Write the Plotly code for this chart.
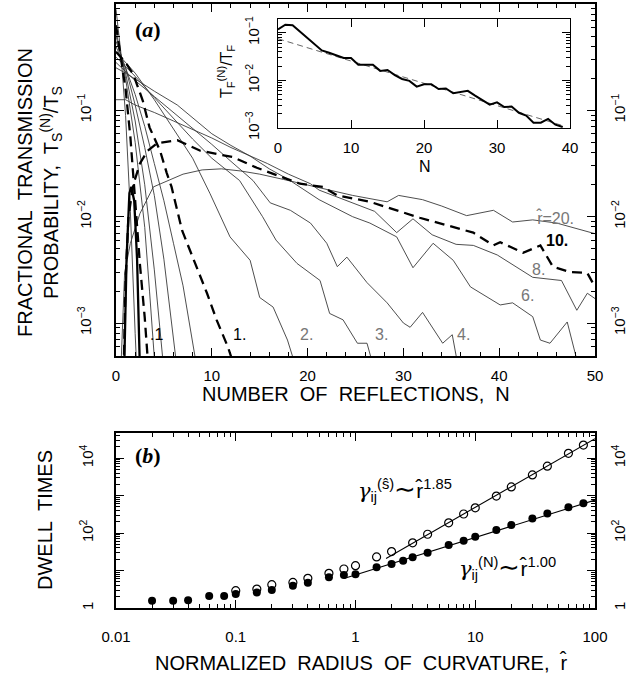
import plotly.graph_objects as go

W, H = 637, 678

# ---------------- Panel (a): log10 of T_S^(N)/T_S versus N, one series per r-hat ----------------
r005_N = [0, 0.5, 1.0, 1.5, 2.0, 2.2]
r005_lg = [-0.05, -0.45, -1.05, -1.95, -3.1, -3.5]
r01_N = [0, 1.0, 1.5, 2.0, 2.5, 3.0, 3.4]
r01_lg = [-0.2, -0.8, -1.25, -1.85, -2.45, -2.95, -3.45]
rthick_N = [0.85, 1.1, 1.4, 1.6, 1.9, 2.2, 2.5]
rthick_lg = [-3.45, -2.4, -1.78, -1.72, -1.85, -2.4, -3.45]
r02_N = [0, 1, 2, 3, 3.5, 4.1]
r02_lg = [-0.25, -0.7, -1.3, -2.1, -2.7, -3.45]
r03_N = [0, 1, 2, 3, 4, 5.0]
r03_lg = [-0.3, -0.65, -1.1, -1.7, -2.5, -3.45]
r05_N = [0, 1, 2, 3, 4, 5, 6.4]
r05_lg = [-0.35, -0.6, -0.95, -1.35, -1.8, -2.4, -3.45]
r07_N = [0, 1, 2, 3, 4, 5, 6, 7, 8.5]
r07_lg = [-0.4, -0.6, -0.85, -1.15, -1.5, -1.85, -2.25, -2.65, -3.45]
r1_N = [0, 1, 1.8, 2.8, 3.5, 4.6, 5.3, 5.8, 6.9, 8, 9.5, 10.5, 11.7, 12.5]
r1_lg = [-0.45, -0.55, -0.66, -0.91, -1.16, -1.38, -1.59, -1.72, -2.13, -2.38, -2.72, -2.97, -3.23, -3.45]
r2_N = [0, 2, 4, 6, 8, 9.8, 11.9, 14.0, 15.0, 16.4, 17.9, 18.9]
r2_lg = [-0.45, -0.65, -0.9, -1.17, -1.45, -1.78, -2.19, -2.41, -2.76, -2.85, -3.16, -3.45]
r3_N = [0, 2, 4, 6, 8, 10, 12.9, 15.3, 16.7, 18.9, 21.3, 22.3, 23.7, 25.2, 26.2, 27.0]
r3_lg = [-0.5, -0.68, -0.88, -1.08, -1.27, -1.45, -1.66, -2.0, -2.22, -2.44, -2.60, -2.91, -2.97, -3.19, -3.19, -3.45]
r4_N = [0, 2, 4, 6, 8, 10, 12, 14.3, 16.1, 18.2, 20.3, 22.0, 23.1, 24.1, 26.2, 28.3, 30.0, 30.7, 32.0, 34.1, 35.1, 35.8]
r4_lg = [-0.55, -0.72, -0.87, -1.02, -1.17, -1.32, -1.48, -1.66, -1.87, -1.94, -2.06, -2.25, -2.47, -2.38, -2.62, -2.81, -3.0, -3.04, -2.90, -3.19, -3.11, -3.45]
r6_N = [0, 1, 2.8, 4, 6.4, 8, 10, 12, 14, 16, 18, 21.2, 24.7, 26.5, 29.3, 31.0, 33.1, 35.2, 37.0, 40.1, 41.4, 43.5, 44.3, 45.3, 47.1, 48.4]
r6_lg = [-0.6, -0.65, -0.75, -0.82, -0.95, -1.07, -1.22, -1.33, -1.43, -1.55, -1.65, -1.84, -2.0, -2.06, -2.19, -2.48, -2.25, -2.41, -2.66, -2.83, -2.81, -2.94, -3.16, -3.19, -2.99, -3.45]
r8_N = [0, 1, 2, 4, 6, 8, 10, 12, 14, 15.8, 18, 20.3, 21.2, 24, 27, 29.3, 31, 33, 35.5, 37.3, 39.8, 43.5, 46.5, 48.1, 49.2, 50]
r8_lg = [-0.9, -0.9, -0.95, -1.02, -1.1, -1.18, -1.26, -1.35, -1.43, -1.5, -1.6, -1.69, -1.75, -1.85, -1.95, -2.15, -2.02, -2.17, -2.26, -2.27, -2.36, -2.57, -2.60, -2.88, -2.72, -2.77]
r10_N = [0.8, 1.0, 1.3, 1.8, 2.5, 3.3, 4.3, 6.4, 8.8, 12.2, 14.7, 17.4, 19.2, 21.6, 23.1, 26.5, 31.7, 37.3, 39.4, 40.1, 42.5, 44.3, 45.6, 47.4, 49.2, 50]
r10_lg = [-3.45, -2.6, -2.0, -1.7, -1.50, -1.38, -1.31, -1.28, -1.38, -1.44, -1.54, -1.63, -1.69, -1.72, -1.80, -1.86, -2.01, -2.15, -2.27, -2.24, -2.34, -2.27, -2.47, -2.52, -2.53, -2.66]
r20_N = [0.5, 0.9, 1.5, 2.5, 3.9, 5.4, 7, 9, 11, 13, 15, 17.5, 19, 21.3, 24.7, 28.3, 29.5, 32, 34, 36.6, 39.4, 41.4, 43.5, 46, 48.7, 50]
r20_lg = [-3.45, -2.53, -2.25, -1.97, -1.72, -1.66, -1.60, -1.56, -1.55, -1.57, -1.60, -1.65, -1.68, -1.73, -1.80, -1.86, -1.80, -1.84, -1.90, -1.99, -1.94, -2.05, -2.03, -2.06, -2.13, -2.16]

# ---------------- Inset: log10 of T_F^(N)/T_F ----------------
inset_N = list(range(40))
inset_lg = [-0.93, -0.83, -0.84, -0.97, -1.09, -1.22, -1.37, -1.42, -1.47, -1.53,
            -1.53, -1.67, -1.67, -1.67, -1.80, -1.78, -1.89, -1.97, -2.01, -2.13,
            -2.08, -2.08, -2.18, -2.17, -2.27, -2.24, -2.22, -2.32, -2.42, -2.51,
            -2.46, -2.56, -2.55, -2.68, -2.74, -2.89, -2.89, -2.81, -2.93, -2.98]
inset_fit_N = [0, 39]
inset_fit_lg = [-1.125, -2.95]

# ---------------- Panel (b): dwell times versus r-hat ----------------
rN = [0.02, 0.03, 0.04, 0.06, 0.08, 0.1, 0.15, 0.2, 0.3, 0.4, 0.6, 0.8, 1.0, 1.5, 2.0, 2.5, 3.0,
      4.0, 6.0, 8.0, 10, 15, 20, 30, 40, 60, 80]
gammaN = [1.55, 1.55, 1.6, 2.1, 2.1, 2.35, 2.6, 3.0, 3.9, 4.7, 6.6, 7.6, 8.0, 12.2, 14.9, 18.3, 22.5,
          30, 48, 62, 80, 120, 163, 245, 335, 490, 620]
rS = [0.1, 0.15, 0.2, 0.3, 0.4, 0.6, 0.8, 1.0, 1.5, 2.0, 3.0, 4.0, 6.0, 8.0, 10, 15, 20, 30, 40, 60, 80]
gammaS = [2.9, 3.2, 4.2, 4.8, 6.2, 8.4, 11, 13.5, 23, 32, 55, 93, 188, 322, 470, 970, 1700, 3550,
          6100, 13400, 22300]
fitN_r = [0.8, 100]
fitN_g = [6.1, 760]
fitS_r = [1.8, 100]
fitS_g = [21, 33000]

THIN = dict(color="#3a3a3a", width=0.9)
THICK_DASH = dict(color="black", width=2.3, dash="10px,6px")
THICK = dict(color="black", width=2.3)

curves = [
    (r005_N, r005_lg, THIN), (r02_N, r02_lg, THIN), (r03_N, r03_lg, THIN),
    (r05_N, r05_lg, THIN), (r07_N, r07_lg, THIN), (r2_N, r2_lg, THIN), (r3_N, r3_lg, THIN),
    (r4_N, r4_lg, THIN), (r6_N, r6_lg, THIN), (r8_N, r8_lg, THIN), (r20_N, r20_lg, THIN),
    (r01_N, r01_lg, THICK_DASH), (r1_N, r1_lg, THICK_DASH), (r10_N, r10_lg, THICK_DASH),
    (rthick_N, rthick_lg, THICK),
]

fig = go.Figure()
for n, lg, ln in curves:
    fig.add_trace(go.Scatter(x=n, y=[10 ** v for v in lg], mode="lines", line=ln,
                             xaxis="x", yaxis="y", hoverinfo="skip"))
fig.add_trace(go.Scatter(x=[], y=[], xaxis="x", yaxis="y2"))

fig.add_trace(go.Scatter(x=inset_fit_N, y=[10 ** v for v in inset_fit_lg], mode="lines",
                         line=dict(color="#555", width=0.9, dash="6px,4px"), xaxis="x3", yaxis="y3"))
fig.add_trace(go.Scatter(x=inset_N, y=[10 ** v for v in inset_lg], mode="lines",
                         line=dict(color="black", width=2.0), xaxis="x3", yaxis="y3"))

fig.add_trace(go.Scatter(x=fitN_r, y=fitN_g, mode="lines", line=dict(color="black", width=1.1),
                         xaxis="x4", yaxis="y4"))
fig.add_trace(go.Scatter(x=fitS_r, y=fitS_g, mode="lines", line=dict(color="black", width=1.1),
                         xaxis="x4", yaxis="y4"))
fig.add_trace(go.Scatter(x=rS, y=gammaS, mode="markers",
                         marker=dict(symbol="circle-open", size=8, color="black", line=dict(width=1.2)),
                         xaxis="x4", yaxis="y4"))
fig.add_trace(go.Scatter(x=rN, y=gammaN, mode="markers",
                         marker=dict(symbol="circle", size=8, color="black"),
                         xaxis="x4", yaxis="y4"))
fig.add_trace(go.Scatter(x=[], y=[], xaxis="x4", yaxis="y5"))

FONT = "Liberation Sans"
TF = dict(family=FONT, size=15, color="black")

def log_minor(e0, e1):
    return [k * 10.0 ** e for e in range(e0, e1) for k in range(2, 10)]

base = dict(showline=True, linecolor="black", linewidth=1.5, ticks="inside", tickcolor="black",
            ticklen=8, tickwidth=1.2, showgrid=False, zeroline=False, tickfont=TF, automargin=False)

ya_vals = [1, 0.1, 0.01, 0.001]
ya_text = ["1", "10<sup>−1</sup>", "10<sup>−2</sup>", "10<sup>−3</sup>"]
yb_vals = [1, 10, 100, 1000, 10000]
yb_text = ["1", "", "10<sup>2</sup>", "", "10<sup>4</sup>"]

fig.update_layout(
    width=W, height=H, margin=dict(l=0, r=0, t=0, b=0, autoexpand=False),
    plot_bgcolor="white", paper_bgcolor="white", showlegend=False,
    font=dict(family=FONT, color="black"),
    xaxis=dict(base, domain=[116 / W, 595 / W], anchor="y", range=[0, 50], mirror="ticks",
               tickvals=[0, 10, 20, 30, 40, 50], ticklabelstandoff=5,
               minor=dict(ticks="inside", ticklen=4, tickcolor="black", dtick=2)),
    yaxis=dict(base, domain=[1 - 356 / H, 1 - 4 / H], anchor="x", type="log", range=[-3.31, 0],
               mirror="ticks", tickvals=ya_vals, ticktext=ya_text, tickangle=-90, ticklabelstandoff=17,
               minor=dict(ticks="inside", ticklen=4, tickcolor="black", tickmode="array",
                          tickvals=log_minor(-4, 0))),
    yaxis2=dict(base, overlaying="y", side="right", anchor="x", type="log", range=[-3.31, 0],
                showline=False, tickvals=ya_vals, ticktext=ya_text, tickangle=-90, ticklabelstandoff=14),
    xaxis3=dict(base, domain=[278 / W, 570 / W], anchor="y3", range=[0, 40], mirror="ticks",
                tickvals=[0, 10, 20, 30, 40], ticklabelstandoff=6, linewidth=1.3),
    yaxis3=dict(base, domain=[1 - 128 / H, 1 - 19 / H], anchor="x3", type="log", range=[-3, -0.71],
                mirror="ticks", tickvals=[0.1, 0.01, 0.001],
                ticktext=["10<sup>−1</sup>", "10<sup>−2</sup>", "10<sup>−3</sup>"], tickangle=-90,
                ticklabelstandoff=12, linewidth=1.3,
                minor=dict(ticks="inside", ticklen=4, tickcolor="black", tickmode="array",
                           tickvals=log_minor(-4, 0))),
    xaxis4=dict(base, domain=[116 / W, 595 / W], anchor="y4", type="log", range=[-2, 2], mirror="ticks",
                tickvals=[0.01, 0.1, 1, 10, 100], ticktext=["0.01", "0.1", "1", "10", "100"],
                ticklabelstandoff=14,
                minor=dict(ticks="inside", ticklen=4, tickcolor="black", tickmode="array",
                           tickvals=log_minor(-2, 2))),
    yaxis4=dict(base, domain=[1 - 608 / H, 1 - 433 / H], anchor="x4", type="log", range=[0, 4.67],
                mirror="ticks", tickvals=yb_vals, ticktext=yb_text, tickangle=-90, ticklabelstandoff=15,
                minor=dict(ticks="inside", ticklen=4, tickcolor="black", tickmode="array",
                           tickvals=log_minor(0, 5))),
    yaxis5=dict(base, overlaying="y4", side="right", anchor="x4", type="log", range=[0, 4.67],
                showline=False, tickvals=yb_vals, ticktext=yb_text, tickangle=-90, ticklabelstandoff=14),
)

def P(x, y):
    return x / W, 1 - y / H

anns = []
def add_paper(x, y, text, size=20, angle=0, family=FONT, color="black"):
    px, py = P(x, y)
    anns.append(dict(x=px, y=py, xref="paper", yref="paper", text=text, showarrow=False,
                     textangle=angle, font=dict(family=family, size=size, color=color),
                     xanchor="center", yanchor="middle"))

add_paper(40, 193, "FRACTIONAL  TRANSMISSION<br>PROBABILITY,  T<sub>S</sub><sup>(N)</sup>/T<sub>S</sub>", 20, -90)
add_paper(356, 394, "NUMBER  OF  REFLECTIONS,  N", 20)
add_paper(45, 520, "DWELL  TIMES", 20, -90)
add_paper(362, 662, "NORMALIZED  RADIUS  OF  CURVATURE,  r&#770;", 20)
add_paper(226, 72, "T<sub>F</sub><sup>(N)</sup>/T<sub>F</sub>", 16, -90)
add_paper(425, 166, "N", 16)
add_paper(148, 30, "<b>(<i>a</i>)</b>", 22, 0, "Liberation Serif")
add_paper(148, 455, "<b>(<i>b</i>)</b>", 22, 0, "Liberation Serif")

# curve labels in data coordinates of panel (a) (x = N, y = log10)
lab = [(4.2, -3.11, ".1", "black"), (12.9, -3.11, "1.", "black"), (19.9, -3.11, "2.", "#777"),
       (27.7, -3.11, "3.", "#777"), (36.3, -3.11, "4.", "#777"), (43.0, -2.74, "6.", "#777"),
       (44.1, -2.50, "8.", "#777"), (46.0, -2.22, "<b>10.</b>", "black"),
       (45.8, -2.01, "r&#770;=20.", "#777")]
for x, y, t, c in lab:
    anns.append(dict(x=x, y=y, xref="x", yref="y", text=t, showarrow=False,
                     font=dict(family=FONT, size=16, color=c), xanchor="center", yanchor="middle"))

G = "<span style='font-family:\"DejaVu Serif\"'><i>γ</i></span>"
TL = "<span style='font-size:26px'>∼</span>"
anns.append(dict(x=0.413, y=3.15, xref="x4", yref="y4", showarrow=False,
                 text=G + "<sub>ij</sub><sup>(s&#770;)</sup>" + TL + "r&#770;<sup>1.85</sup>",
                 font=dict(family=FONT, size=21, color="black")))
anns.append(dict(x=1.273, y=1.07, xref="x4", yref="y4", showarrow=False,
                 text=G + "<sub>ij</sub><sup>(N)</sup>" + TL + "r&#770;<sup>1.00</sup>",
                 font=dict(family=FONT, size=21, color="black")))

fig.update_layout(annotations=anns)
fig.write_html("out.html", config={"displayModeBar": False},
               post_script="document.body.style.margin='0';document.body.style.padding='0';"
                           "document.body.style.overflow='hidden';")
